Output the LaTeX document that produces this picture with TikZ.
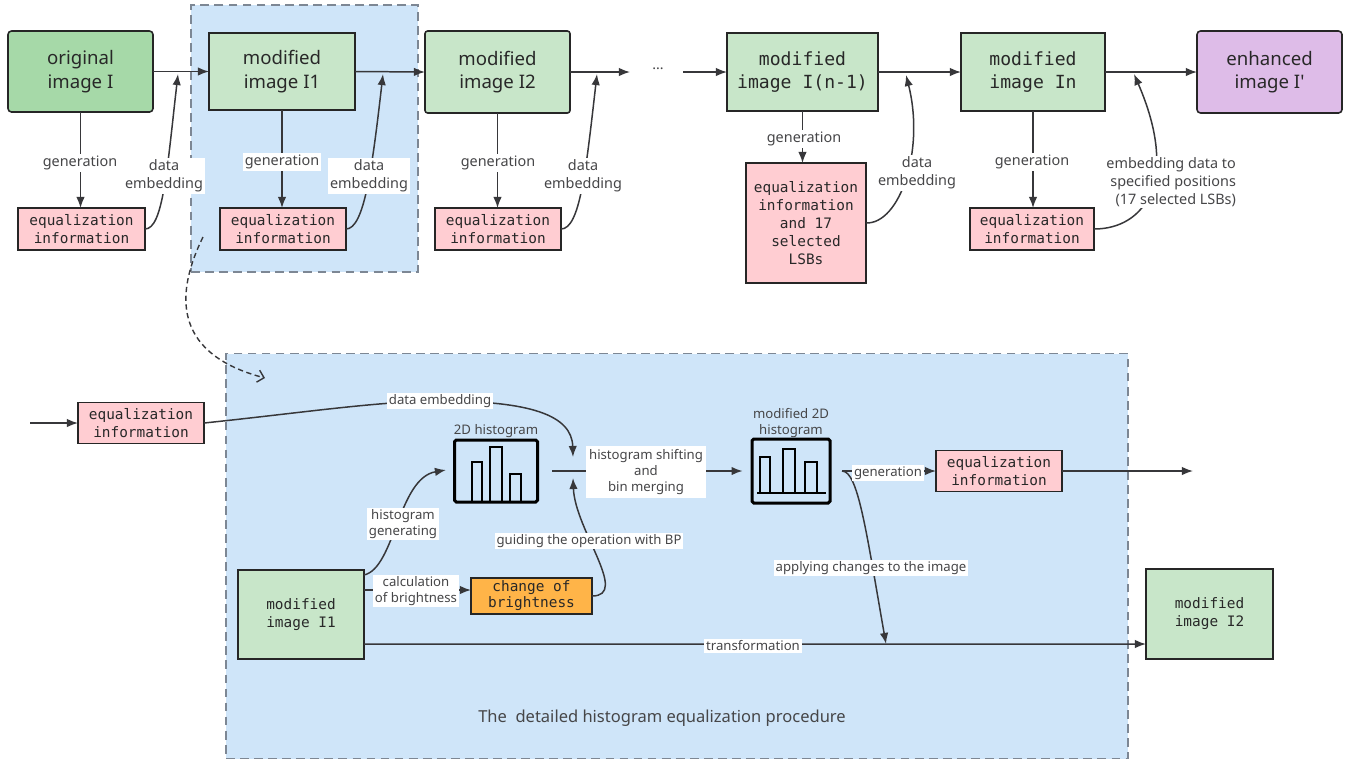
\documentclass[tikz,border=0pt]{standalone}
\usepackage{fontspec}
\setmainfont{Noto Sans}
\newfontfamily\monofont{DejaVu Sans Mono}
\usetikzlibrary{arrows.meta,calc}
\definecolor{gdark}{RGB}{166,217,168}
\definecolor{glite}{RGB}{200,230,201}
\definecolor{pinkc}{RGB}{255,205,210}
\definecolor{purp}{RGB}{222,188,232}
\definecolor{orng}{RGB}{255,180,72}
\definecolor{bluebg}{RGB}{207,229,249}
\definecolor{dashc}{RGB}{125,135,148}
\definecolor{linec}{RGB}{55,55,58}
\definecolor{txtc}{RGB}{40,40,40}
\definecolor{lblc}{RGB}{70,70,72}
\newcommand\pxu{0.02cm}

\begin{document}
\begin{tikzpicture}[x=0.02cm,y=-0.02cm,
  conn/.style={draw=linec,line width=0.85pt},
  arr/.style={conn,-{Latex[length=6.3pt,width=4.8pt]}},
  sz/.style 2 args={minimum width=#1*\pxu,minimum height=#2*\pxu},
  bx/.style={draw=black!85,line width=0.9pt,inner sep=0pt,outer sep=0pt,align=center,text=txtc},
  bigsans/.style={bx,font=\fontsize{10.6}{13.4}\selectfont},
  bigmono/.style={bx,font=\monofont\fontsize{10.3}{13.2}\selectfont},
  smallmono/.style={bx,font=\monofont\fontsize{8.2}{10.2}\selectfont},
  pinkb/.style={smallmono,fill=pinkc},
  region/.style={fill=bluebg,draw=dashc,line width=0.8pt,dash pattern=on 5pt off 3pt,inner sep=0pt},
  hist/.style={draw=black,line width=1.7pt,rounded corners=1pt,inner sep=0pt},
  bar/.style={draw=black,line width=1.4pt},
  lbltop/.style={fill=white,inner sep=1pt,align=center,text=lblc,font=\fontsize{8.2}{10.2}\selectfont},
  lblbot/.style={fill=white,inner sep=1pt,align=center,text=lblc,font=\fontsize{7.5}{9}\selectfont},
  caption/.style={inner sep=0pt,align=center,text=lblc,font=\fontsize{7.5}{9}\selectfont},
]
% canvas
\fill[white] (0,0) rectangle (1348,762);
\useasboundingbox (0,0) rectangle (1348,762);

% shaded regions
\node[region,sz={227}{267}] (topreg) at (304.5,138.5) {};
\node[region,sz={902}{405}] (botreg) at (677,556) {};

% ---------- main chain ----------
\node[bigsans,fill=gdark,rounded corners=2pt,sz={145}{81}] (orig) at (80.5,71.5) {original\\image I};
\node[bigsans,fill=glite,sz={146}{77}] (m1) at (282,71.5) {modified\\image I1};
\node[bigsans,fill=glite,rounded corners=1.5pt,sz={145}{82}] (m2) at (497.5,72) {modified\\image I2};
\node[inner sep=0pt,text=lblc,font=\fontsize{8}{8}\selectfont] (dots) at (658,69) {...};
\node[bigmono,fill=glite,sz={151}{78}] (mn1) at (802.5,72) {modified\\image I(n-1)};
\node[bigmono,fill=glite,sz={144}{78}] (mn) at (1033,72) {modified\\image In};
\node[bigsans,fill=purp,rounded corners=2pt,sz={145}{82}] (enh) at (1269.5,72) {enhanced\\image I\textquotesingle};

\node[pinkb,sz={127}{42}] (e0) at (81.5,229) {equalization\\information};
\node[pinkb,sz={126}{42}] (e1) at (283,229) {equalization\\information};
\node[pinkb,sz={126}{42}] (e2) at (498,229) {equalization\\information};
\node[pinkb,sz={120}{120}] (en1) at (806,223) {equalization\\information\\and 17\\selected\\LSBs};
\node[pinkb,sz={124}{42}] (en) at (1032,229) {equalization\\information};

\coordinate (t0) at (178,74);
\coordinate (t1) at (383,74);
\coordinate (t2) at (597,74);
\coordinate (tn1) at (906,75);
\coordinate (tn) at (1134,74);
\coordinate (dl) at (630,72);
\coordinate (dr) at (683,72);

\draw[arr] (orig.east) -- (m1.west);
\draw[arr] (m1.east) -- (m2.west);
\draw[arr] (m2.east) -- (dl);
\draw[arr] (dr) -- (mn1.west);
\draw[arr] (mn1.east) -- (mn.west);
\draw[arr] (mn.east) -- (enh.west);

\draw[arr] (orig.south) -- (orig.south |- e0.north);
\draw[arr] (m1.south) -- (m1.south |- e1.north);
\draw[arr] (m2.south) -- (m2.south |- e2.north);
\draw[arr] (mn1.south) -- (mn1.south |- en1.north);
\draw[arr] (mn.south) -- (mn.south |- en.north);

\draw[arr] (e0.east) .. controls (163,229) and (167,170) .. (t0);
\draw[arr] (e1.east) .. controls (364,229) and (372,170) .. (t1);
\draw[arr] (e2.east) .. controls (580,229) and (586,170) .. (t2);
\draw[arr] (en1.east) .. controls (900,224) and (925,150) .. (tn1);
\draw[arr] (en.east) .. controls (1145,229) and (1180,180) .. (tn);

\node[lbltop] (g0) at (80,163) {generation};
\node[lbltop] (d0) at (164,176) {data\\embedding};
\node[lbltop] (g1) at (282,162) {generation};
\node[lbltop] (d1) at (369,176) {data\\embedding};
\node[lbltop] (g2) at (498,163) {generation};
\node[lbltop] (d2) at (583,176) {data\\embedding};
\node[lbltop] (gn1) at (804,139) {generation};
\node[lbltop] (dn1) at (917,173) {data\\embedding};
\node[lbltop] (gn) at (1032,162) {generation};
\node[lbltop,align=right,anchor=east] (dn) at (1238,182) {embedding data to\\specified positions\\(17 selected LSBs)};

% link from the first stage to its detailed view
\coordinate (dS) at (203,237);
\coordinate (dE) at (265,378);
\draw[draw=linec,line width=0.8pt,dash pattern=on 3pt off 2pt,-{Straight Barb[length=3.5pt,width=7pt]}]
  (dS) .. controls (172,300) and (178,355) .. (dE);

% ---------- detailed procedure ----------
\node[pinkb,sz={126}{41}] (eqb) at (141,423) {equalization\\information};
\node[hist,sz={83}{62}] (h2d) at (496,471) {};
\node[hist,sz={78}{64}] (mh) at (791,471) {};
\node[pinkb,sz={126}{41}] (eqr) at (999,471) {equalization\\information};
\node[smallmono,fill=glite,sz={126}{89}] (I1b) at (301,614.5) {modified\\image I1};
\node[smallmono,fill=orng,sz={121}{36},font=\monofont\fontsize{8.2}{9}\selectfont] (oc) at (531.5,596)
  {\raisebox{-3pt}{\begin{tabular}{@{}c@{}}change of\\brightness\end{tabular}}};
\node[smallmono,fill=glite,sz={127}{90}] (I2b) at (1209.5,614) {modified\\image I2};

% histogram bars
\draw[bar] (472,502) rectangle (482,462);
\draw[bar] (490,502) rectangle (502,447);
\draw[bar] (510,502) rectangle (521,474);
\draw[bar] (757,493) -- (826,493);
\draw[bar] (760,493) rectangle (770,457);
\draw[bar] (783,493) rectangle (795,449);
\draw[bar] (805,493) rectangle (817,462);

\coordinate (inS) at (30,423);
\coordinate (tDE) at (573,457);
\coordinate (tGB) at (573,478);
\coordinate (hs0) at (552,471);
\coordinate (tHG) at (446,470);
\coordinate (gst) at (842,471);
\coordinate (tAC) at (886,644);
\coordinate (outE) at (1193,471);

\draw[arr] (inS) -- (eqb.west);
\draw[arr] (eqb.east) .. controls (300,413) and (380,401) .. (440,401)
                     .. controls (530,401) and (572,415) .. (tDE);
\draw[arr,shorten >=4.5pt] (hs0) -- (mh.west);
\draw[arr] (oc.east) .. controls (630,596) and (575,530) .. (tGB);
\draw[arr] ($(I1b.north east)+(0,5)$) .. controls (395,568) and (398,478) .. (tHG);
\draw[arr] ($(I1b.north east)+(0,20)$) -- ($(oc.north west)+(0,12)$);
\draw[arr] ($(I1b.south east)+(0,-15)$) -- ($(I2b.south west)+(0,-15)$);
\draw[arr] (gst) -- (eqr.west);
\draw[arr] (eqr.east) -- (outE);
\draw[arr] (gst) .. controls (858,471) and (866,530) .. (tAC);

\node[caption] (h2dl) at (496,431) {2D histogram};
\node[caption] (mhl) at (791,423) {modified 2D\\histogram};
\node[lblbot] (del) at (440,401) {data embedding};
\node[lblbot,inner sep=2pt] (hsl) at (646,472) {histogram shifting\\and\\bin merging};
\node[lblbot] (hgl) at (403,524) {histogram\\generating};
\node[lblbot] (gbl) at (589,541) {guiding the operation with BP};
\node[lblbot] (cbl) at (416,591) {calculation\\of brightness};
\node[lblbot] (genl) at (888,473) {generation};
\node[lblbot] (acl) at (871,568) {applying changes to the image};
\node[lblbot] (trl) at (753,646) {transformation};
\node[caption,font=\fontsize{9.4}{11}\selectfont] (foot) at (662,718) {The\ \ detailed histogram equalization procedure};
\end{tikzpicture}
\end{document}
